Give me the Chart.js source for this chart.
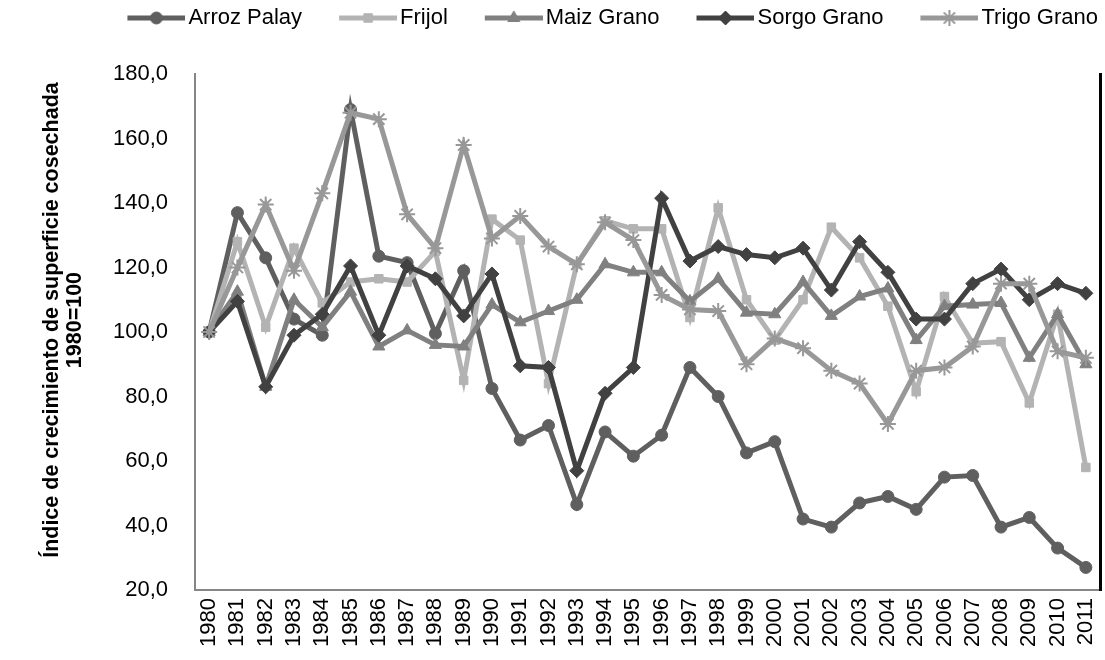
<!DOCTYPE html>
<html>
<head>
<meta charset="utf-8">
<script src="https://cdn.jsdelivr.net/npm/chart.js@4/dist/chart.umd.min.js"></script>
<style>
html,body{margin:0;padding:0;background:#fff;}
#wrap{width:1105px;height:660px;position:relative;}
</style>
</head>
<body>
<div id="wrap"><canvas id="c" width="1105" height="660"></canvas></div>
<script>
const years = ["1980","1981","1982","1983","1984","1985","1986","1987","1988","1989","1990","1991","1992","1993","1994","1995","1996","1997","1998","1999","2000","2001","2002","2003","2004","2005","2006","2007","2008","2009","2010","2011"];
const arrozPalay = [100,137,123,104,99,169,123.5,121.5,99.5,119,82.5,66.5,71,46.5,69,61.5,68,89,80,62.5,66,42,39.5,47,49,45,55,55.5,39.5,42.5,33,27];
const frijol     = [100,128,101.5,126,109,115.5,116.5,115.5,125,85,135,128.5,84,121,134.5,132,132,104.5,138.5,110,97.5,110,132.5,123,108,81.5,111,96.5,97,78,105.5,58];
const maizGrano  = [100,112.5,83,110,101.5,112.5,95.5,100.5,96,95.5,108.5,103,106.5,110,121,118.5,118.5,109.5,116.5,106,105.5,115.5,105,111,113.5,97.5,108,108.5,109,92,105.5,90];
const sorgoGrano = [100,109.5,83,99,105.5,120.5,99,120.5,116.5,105,118,89.5,89,57,81,89,141.5,122,126.5,124,123,126,113,128,118.5,104,104,115,119.5,110,115,112];
const trigoGrano = [100,120,139.5,119,143,168,166,136.5,126,158,129,136,126.5,121,134,128.5,111.5,107,106.5,90,98,95,88,84,71.5,88,89,95.5,115,115,94,92];
const seriesNames = ["Arroz Palay","Frijol","Maiz Grano","Sorgo Grano","Trigo Grano"];
const seriesColors = ["#5f5f5f","#b3b3b3","#808080","#414141","#989898"];
const seriesMarkers = ["circle","rect","triangle","rectRot","star"];
const yTicks = {min:20, max:180, step:20};
const yTitleLines = ['Índice de crecimiento de superficie cosechada', '1980=100'];

const FONT = "'Liberation Sans', Arial, sans-serif";
const seriesData = [arrozPalay, frijol, maizGrano, sorgoGrano, trigoGrano];
const markerRadius = [6,6,7,7,8];
const LEG_W = 80;

function legendImage(color, marker, r){
  const W = LEG_W + 16, H = 22;
  const cv = document.createElement('canvas');
  cv.width = W; cv.height = H;
  const ctx = cv.getContext('2d');
  ctx.strokeStyle = color; ctx.fillStyle = color; ctx.lineWidth = 5;
  ctx.beginPath(); ctx.moveTo(W - 58, H/2); ctx.lineTo(W, H/2); ctx.stroke();
  ctx.lineWidth = marker === 'star' ? 2 : 1;
  Chart.helpers.drawPoint(ctx, {pointStyle: marker, radius: r, rotation: 0, borderWidth: ctx.lineWidth}, W - 29, H/2);
  return cv;
}

const datasets = seriesNames.map((name, i) => ({
  label: name,
  data: seriesData[i],
  borderColor: seriesColors[i],
  backgroundColor: seriesColors[i],
  borderWidth: 5,
  pointStyle: seriesMarkers[i],
  pointRadius: markerRadius[i],
  pointHoverRadius: markerRadius[i],
  pointBorderWidth: seriesMarkers[i] === 'star' ? 2 : 1,
  pointBackgroundColor: seriesColors[i],
  pointBorderColor: seriesColors[i],
  tension: 0,
  order: seriesNames.length - i
}));

const legendHeight = {
  id: 'legendHeight',
  beforeLayout(chart){
    const lg = chart.legend;
    if (lg && !lg._patched){
      const f = lg.fit;
      lg.fit = function(){ f.call(this); this.height = 74; };
      lg._patched = true;
    }
  }
};

new Chart(document.getElementById('c'), {
  type: 'line',
  data: { labels: years, datasets },
  plugins: [legendHeight],
  options: {
    responsive: false,
    animation: false,
    layout: { autoPadding: false, padding: { left: 0, right: 0, top: 0, bottom: 0 } },
    plugins: {
      tooltip: { enabled: false },
      legend: {
        position: 'top',
        align: 'end',
        labels: {
          usePointStyle: true,
          pointStyleWidth: LEG_W,
          padding: 7,
          color: '#000',
          font: { family: FONT, size: 22 },
          generateLabels(chart){
            return chart.data.datasets.map((ds, i) => ({
              text: ds.label,
              fillStyle: ds.borderColor,
              strokeStyle: ds.borderColor,
              lineWidth: 0,
              pointStyle: legendImage(ds.borderColor, seriesMarkers[i], markerRadius[i]),
              hidden: false,
              datasetIndex: i,
              fontColor: '#000'
            }));
          }
        }
      }
    },
    scales: {
      x: {
        type: 'category',
        offset: true,
        grid: { display: false, drawTicks: false },
        border: { display: true, color: '#868686', width: 2 },
        ticks: {
          color: '#000',
          font: { family: FONT, size: 22 },
          minRotation: 90, maxRotation: 90,
          autoSkip: false,
          padding: 8
        },
        afterFit(s){ s.height = 70; s.paddingLeft = 0; s.paddingRight = 0; }
      },
      y: {
        min: yTicks.min, max: yTicks.max,
        grid: { display: false, drawTicks: false },
        border: { display: true, color: '#868686', width: 2 },
        ticks: {
          stepSize: yTicks.step,
          color: '#000',
          font: { family: FONT, size: 22 },
          padding: 27,
          callback: v => v.toFixed(1).replace('.', ',')
        },
        title: {
          display: true,
          text: yTitleLines.map(t => '    ' + t),
          color: '#000',
          font: { family: FONT, size: 21.5, weight: 'bold', lineHeight: 1.1 },
          padding: { top: 40, bottom: 0 }
        },
        afterFit(s){ s.width = 195; }
      },
      y2: {
        position: 'right',
        min: yTicks.min, max: yTicks.max,
        grid: { display: false, drawTicks: false },
        border: { display: true, color: '#000', width: 3 },
        ticks: { display: false },
        afterFit(s){ s.width = 5; }
      }
    }
  }
});
</script>
</body>
</html>
